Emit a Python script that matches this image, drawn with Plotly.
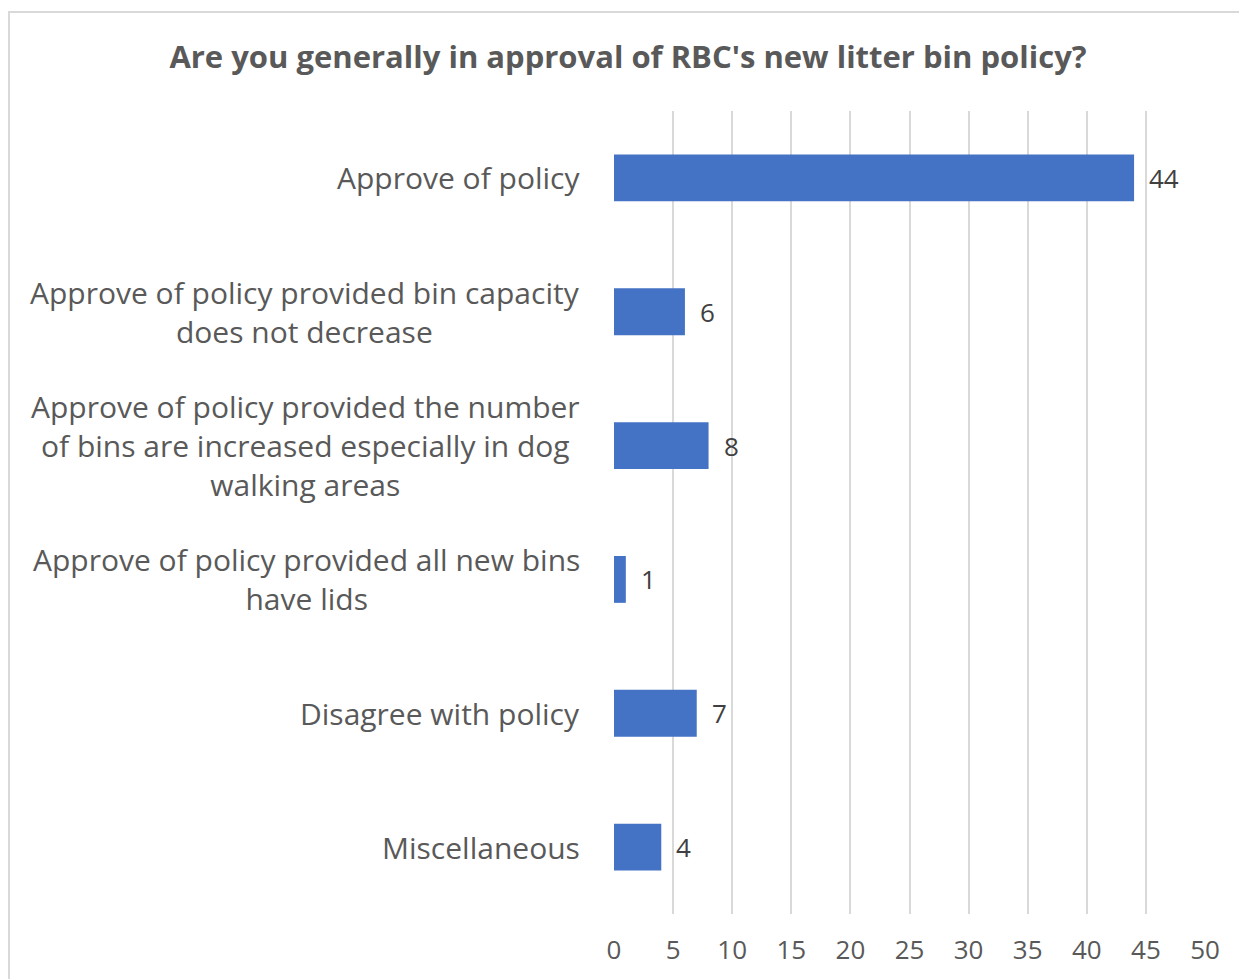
import plotly.graph_objects as go

title = "Are you generally in approval of RBC's new litter bin policy?"
categories = [
    "Approve of policy",
    "Approve of policy provided bin capacity<br>does not decrease",
    "Approve of policy provided the number<br>of bins are increased especially in dog<br>walking areas",
    "Approve of policy provided all new bins<br>have lids",
    "Disagree with policy",
    "Miscellaneous",
]
values = [44, 6, 8, 1, 7, 4]
x_ticks = list(range(0, 51, 5))

# page body has an 8px margin; coordinates below are figure coordinates
OFF = 8
W, H = 1247, 979
L, T = 614 - OFF, 111 - OFF
RIGHT, BOTTOM = 1205 - OFF, 914 - OFF
R, B = W - RIGHT, H - BOTTOM
pw, ph = RIGHT - L, BOTTOM - T

FONT = "Open Sans"
TXT = "#595959"
BAR = "#4472C4"

fig = go.Figure()
fig.add_trace(go.Bar(
    x=values, y=categories, orientation="h",
    marker=dict(color=BAR, line=dict(width=0)),
    hoverinfo="skip",
))

annotations = []
for c, v in zip(categories, values):
    annotations.append(dict(
        x=0, y=c, xref="x", yref="y", text=c, showarrow=False,
        xanchor="right", yanchor="middle", align="center", xshift=-32,
        font=dict(family=FONT, size=30, color=TXT),
    ))
    annotations.append(dict(
        x=v, y=c, xref="x", yref="y", text=str(v), showarrow=False,
        xanchor="left", yanchor="middle", xshift=13,
        font=dict(family=FONT, size=26, color="#404040"),
    ))

def px_x(p):
    return (p - L) / pw

def px_y(p):
    return (BOTTOM - p) / ph

fig.update_layout(
    width=W, height=H,
    margin=dict(l=L, r=R, t=T, b=B),
    paper_bgcolor="white", plot_bgcolor="white",
    bargap=0.65,
    showlegend=False,
    title=dict(text="<b>" + title + "</b>", x=(628 - OFF) / W, xanchor="center",
               y=1 - (57 - OFF) / H, yanchor="middle", yref="container",
               font=dict(family=FONT, size=31, color=TXT)),
    xaxis=dict(range=[0, 50], tickvals=x_ticks, showgrid=True,
               gridcolor="#d9d9d9", gridwidth=2, zeroline=False,
               showline=False, ticks="", ticklabelstandoff=18,
               tickfont=dict(family=FONT, size=26, color=TXT)),
    yaxis=dict(categoryorder="array", categoryarray=categories[::-1],
               showticklabels=False, showgrid=False, zeroline=False,
               showline=False, ticks=""),
    annotations=annotations,
    shapes=[dict(type="rect", xref="paper", yref="paper",
                 x0=px_x(1), x1=px_x(1400), y0=px_y(1100), y1=px_y(12 - OFF),
                 line=dict(color="#d9d9d9", width=2), layer="below")],
)

fig.write_html("out.html")
